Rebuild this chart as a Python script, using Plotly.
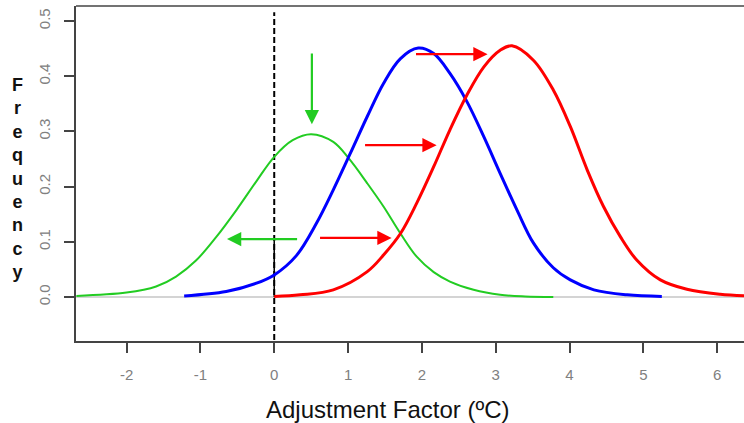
import plotly.graph_objects as go

# Density curves (x in ºC, y = frequency)
green_x = [-2.68, -2.0, -1.6, -1.33, -1.06, -0.79, -0.51, -0.24, 0.0, 0.25, 0.5,
           0.80, 1.01, 1.26, 1.48, 1.71, 1.93, 2.16, 2.38, 2.70, 3.06, 3.40, 3.78]
green_y = [0.002, 0.008, 0.019, 0.037, 0.066, 0.108, 0.158, 0.210, 0.254, 0.284, 0.295,
           0.281, 0.251, 0.206, 0.164, 0.115, 0.073, 0.045, 0.028, 0.013, 0.004, 0.001, 0.0]

blue_x = [-1.22, -0.65, -0.24, 0.0, 0.30, 0.57, 0.80, 1.03, 1.26, 1.48, 1.71, 1.95,
          2.16, 2.38, 2.61, 2.84, 3.06, 3.29, 3.51, 3.78, 4.01, 4.33, 4.78, 5.25]
blue_y = [0.002, 0.010, 0.025, 0.040, 0.075, 0.133, 0.194, 0.260, 0.327, 0.387, 0.432, 0.451,
          0.441, 0.405, 0.354, 0.290, 0.224, 0.157, 0.098, 0.053, 0.031, 0.013, 0.004, 0.001]

red_x = [0.0, 0.35, 0.80, 1.26, 1.48, 1.71, 1.93, 2.16, 2.38, 2.61, 2.84, 3.06, 3.22,
         3.51, 3.78, 4.01, 4.24, 4.46, 4.69, 4.91, 5.23, 5.59, 6.04, 6.40]
red_y = [0.001, 0.004, 0.013, 0.046, 0.076, 0.115, 0.170, 0.236, 0.303, 0.366, 0.417, 0.447, 0.455,
         0.429, 0.375, 0.309, 0.230, 0.164, 0.109, 0.067, 0.031, 0.014, 0.005, 0.002]

# Reference line at zero adjustment
ref_x = [0.0, 0.0]
ref_y = [-0.078, 0.516]
ref_solid_y = [0.0, 0.107]

# Arrows: (start x, start y, end x, end y, colour)
arrows = [
    (0.51, 0.444, 0.51, 0.313, "#22cc22"),
    (0.33, 0.105, -0.64, 0.105, "#22cc22"),
    (0.60, 0.107, 1.59, 0.107, "#ff0000"),
    (1.21, 0.275, 2.20, 0.275, "#ff0000"),
    (1.90, 0.440, 2.89, 0.440, "#ff0000"),
]

x_ticks = [-2, -1, 0, 1, 2, 3, 4, 5, 6]
x_tick_text = ["-2", "-1", "0", "1", "2", "3", "4", "5", "6"]
y_ticks = [0.0, 0.1, 0.2, 0.3, 0.4, 0.5]
y_tick_text = ["0.0", "0.1", "0.2", "0.3", "0.4", "0.5"]

x_range = [-2.685, 6.363]
y_range = [-0.0797, 0.5272]

FONT = "Liberation Sans, Arial"

fig = go.Figure()

# light grey baseline at zero frequency
fig.add_trace(go.Scatter(x=x_range, y=[0, 0], mode="lines",
                         line=dict(color="#d4d4d4", width=2), hoverinfo="skip"))

fig.add_trace(go.Scatter(x=ref_x, y=ref_y, mode="lines",
                         line=dict(color="black", width=2, dash="6px,3px"), hoverinfo="skip"))
fig.add_trace(go.Scatter(x=ref_x, y=ref_solid_y, mode="lines",
                         line=dict(color="black", width=1.5), hoverinfo="skip"))

fig.add_trace(go.Scatter(x=green_x, y=green_y, mode="lines", line_shape="spline",
                         line=dict(color="#22cc22", width=2)))
fig.add_trace(go.Scatter(x=blue_x, y=blue_y, mode="lines", line_shape="spline",
                         line=dict(color="#0000ff", width=3)))
fig.add_trace(go.Scatter(x=red_x, y=red_y, mode="lines", line_shape="spline",
                         line=dict(color="#ff0000", width=3)))

for x0, y0, x1, y1, col in arrows:
    fig.add_annotation(x=x1, y=y1, ax=x0, ay=y0, xref="x", yref="y", axref="x", ayref="y",
                       text="", showarrow=True, arrowhead=2, arrowsize=1.3,
                       arrowwidth=2.2, arrowcolor=col, standoff=0)

# top border of the plot box
fig.add_shape(type="line", xref="paper", yref="paper", x0=0, x1=1, y0=1, y1=1,
              line=dict(color="#444", width=1.5))

fig.add_annotation(text="Adjustment Factor (ºC)", xref="paper", yref="paper",
                   x=(388 - 76) / 668, y=-0.205, xanchor="center", yanchor="middle",
                   showarrow=False, font=dict(family=FONT, size=24, color="#111"))

fig.add_annotation(text="<br>".join("Frequency"), xref="paper", yref="paper",
                   x=-0.087, y=0.80, xanchor="center", yanchor="top", align="center",
                   showarrow=False,
                   font=dict(family=FONT, size=18, color="#111", weight="bold"))

fig.update_layout(
    width=744, height=423,
    margin=dict(l=76, r=0, t=6, b=82),
    paper_bgcolor="white", plot_bgcolor="white",
    showlegend=False,
    xaxis=dict(range=x_range, tickvals=x_ticks, ticktext=x_tick_text,
               ticks="outside", ticklen=10, tickwidth=1.5,
               tickcolor="#444", showline=True, linecolor="#444", linewidth=1.5,
               showgrid=False, zeroline=False, ticklabelstandoff=9,
               tickfont=dict(family=FONT, size=15, color="#808080")),
    yaxis=dict(range=y_range, tickvals=y_ticks, ticktext=y_tick_text, tickangle=-90,
               ticks="outside", ticklen=10, tickwidth=1.5, tickcolor="#444",
               showline=True, linecolor="#444", linewidth=1.5,
               showgrid=False, zeroline=False, ticklabelstandoff=8,
               tickfont=dict(family=FONT, size=15, color="#808080")),
)

fig.write_html("out.html")
